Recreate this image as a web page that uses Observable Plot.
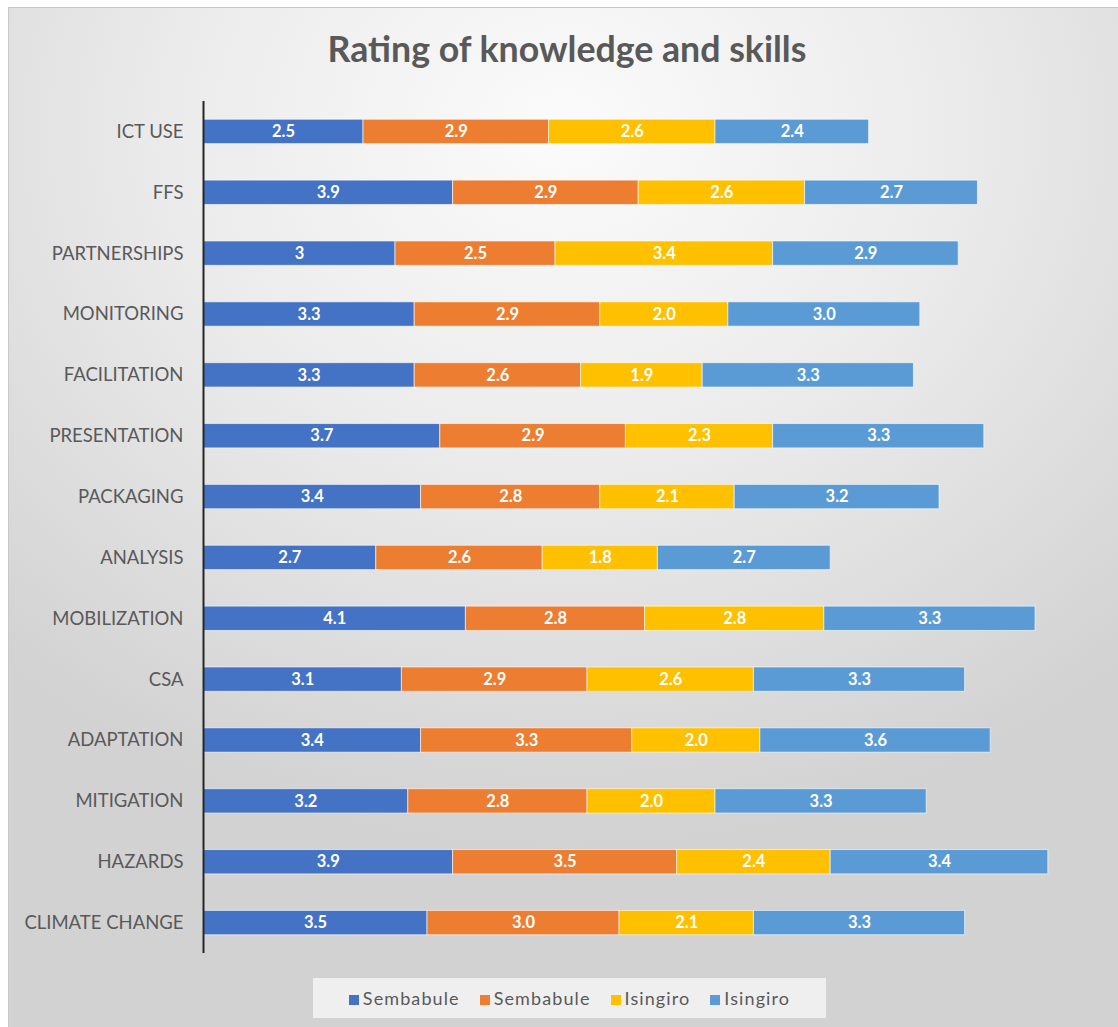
<!DOCTYPE html>
<html>
<head>
<meta charset="utf-8">
<script src="https://cdn.jsdelivr.net/npm/d3@7"></script>
<script src="https://cdn.jsdelivr.net/npm/@observablehq/plot@0.6"></script>
<style>
  html, body { margin: 0; padding: 0; background: #ffffff; overflow: hidden; }
  #frame {
    position: absolute; left: 8px; top: 7px; width: 1110px; height: 1020px;
    background: radial-gradient(ellipse 75% 70% at 50% 12%, #fbfbfb 0%, #ececec 45%, #d2d2d2 100%);
    border-left: 1px solid #c8c8c8; border-top: 1px solid #c8c8c8; box-sizing: border-box; overflow: hidden;
    font-family: Lato, "Open Sans", sans-serif;
  }
  #title {
    position: absolute; left: 0; width: 1110px; top: 21px; text-align: center; padding-left: 6px; box-sizing: border-box;
    font-size: 35.7px; font-weight: 700; color: #595959; line-height: 40px;
  }
  #chart { position: absolute; left: -1px; top: 79px; }
  #legend {
    position: absolute; left: 304px; top: 970px; width: 513px; height: 40px;
    background: rgba(245,245,245,0.85); display: flex; align-items: center; justify-content: center; gap: 20px;
    font-size: 18px; letter-spacing: 1.1px; color: #595959;
  }
  #legend span.sw { display: inline-block; width: 10px; height: 10px; margin-right: 4px; }
</style>
</head>
<body>
<div id="frame">
  <div id="title">Rating of knowledge and skills</div>
  <div id="chart"></div>
  <div id="legend"></div>
</div>
<script>
const categories = ["ICT USE", "FFS", "PARTNERSHIPS", "MONITORING", "FACILITATION", "PRESENTATION", "PACKAGING", "ANALYSIS", "MOBILIZATION", "CSA", "ADAPTATION", "MITIGATION", "HAZARDS", "CLIMATE CHANGE"];
const seriesNames = ["Sembabule", "Sembabule ", "Isingiro", "Isingiro "];
const seriesColors = ["#4472C4", "#ED7D31", "#FFC000", "#5B9BD5"];
const sembabule1 = [2.5, 3.9, 3, 3.3, 3.3, 3.7, 3.4, 2.7, 4.1, 3.1, 3.4, 3.2, 3.9, 3.5];
const sembabule2 = [2.9, 2.9, 2.5, 2.9, 2.6, 2.9, 2.8, 2.6, 2.8, 2.9, 3.3, 2.8, 3.5, 3.0];
const isingiro1  = [2.6, 2.6, 3.4, 2.0, 1.9, 2.3, 2.1, 1.8, 2.8, 2.6, 2.0, 2.0, 2.4, 2.1];
const isingiro2  = [2.4, 2.7, 2.9, 3.0, 3.3, 3.3, 3.2, 2.7, 3.3, 3.3, 3.6, 3.3, 3.4, 3.3];
// label text as printed in the chart (one value shown without decimal)
const labelOverrides = {"PARTNERSHIPS|0": "3"};

const seriesValues = [sembabule1, sembabule2, isingiro1, isingiro2];
const data = [];
seriesValues.forEach((vals, s) => {
  vals.forEach((v, i) => {
    const key = categories[i] + "|" + s;
    data.push({cat: categories[i], series: seriesNames[s], value: v,
               label: labelOverrides[key] ?? v.toFixed(1)});
  });
});

const plot = Plot.plot({
  width: 1102,
  height: 880,
  marginLeft: 195,
  marginRight: 11,
  marginTop: 14,
  marginBottom: 14,
  style: {background: "transparent", fontFamily: "Lato, 'Open Sans', sans-serif", fontSize: "18.5px", color: "#595959", overflow: "visible"},
  x: {domain: [0, 14], axis: null},
  y: {domain: categories, paddingInner: 0.6, paddingOuter: 0.3, round: false, label: null, tickSize: 0, tickPadding: 20},
  color: {domain: seriesNames, range: seriesColors},
  marks: [
    Plot.barX(data, Plot.stackX({x: "value", y: "cat", fill: "series", z: "series", order: seriesNames,
      stroke: "#ffffff", strokeOpacity: 0.6, strokeWidth: 1})),
    Plot.text(data, Plot.stackX({x: "value", y: "cat", z: "series", order: seriesNames, text: "label",
      fill: "#ffffff", fontWeight: "bold", fontSize: 16.5})),
    Plot.ruleX([0], {stroke: "#262626", strokeWidth: 2})
  ]
});
document.getElementById("chart").appendChild(plot);

const legend = document.getElementById("legend");
seriesNames.forEach((name, i) => {
  const item = document.createElement("div");
  item.innerHTML = `<span class="sw" style="background:${seriesColors[i]}"></span>${name.trim()}`;
  legend.appendChild(item);
});
</script>
</body>
</html>
